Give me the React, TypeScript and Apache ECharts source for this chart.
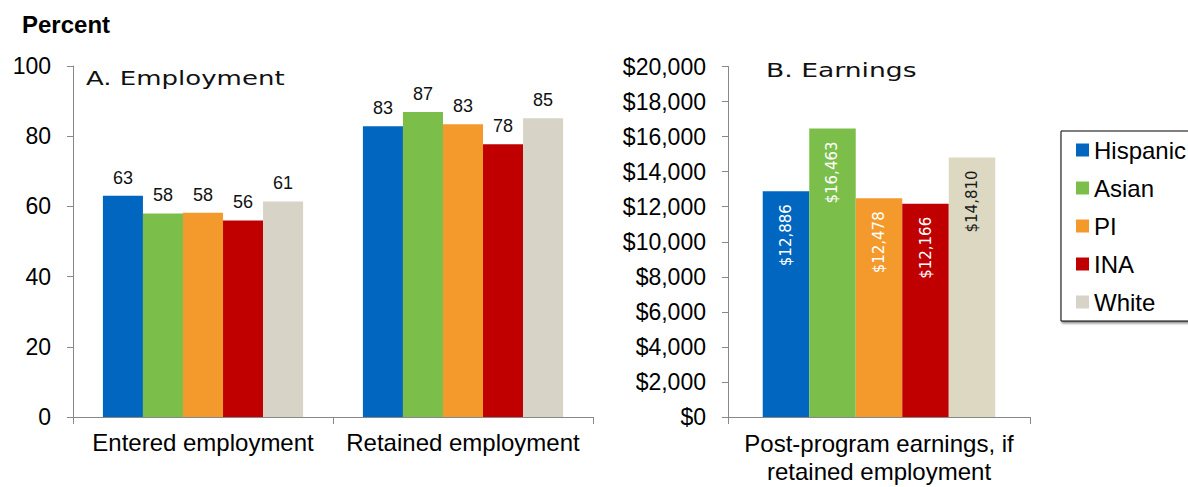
import React, { useEffect, useRef } from "react";
import * as echarts from "echarts";

const seriesNames = ["Hispanic", "Asian", "PI", "INA", "White"];
const employmentCategories = ["Entered employment", "Retained employment"];
const enteredEmployment = [63.0, 58.0, 58.2, 56.0, 61.4];
const retainedEmployment = [82.8, 86.9, 83.4, 77.7, 85.1];
const earningsCategories = ["Post-program earnings, if\nretained employment"];
const earnings = [12886, 16463, 12478, 12166, 14810];
const colorsA = ["#0066C0", "#7CBE4A", "#F49A2C", "#C00000", "#D7D3C7"];
const colorsB = ["#0066C0", "#7CBE4A", "#F49A2C", "#C00000", "#DCD8C1"];
const earningsLabelColors = ["#ffffff", "#ffffff", "#ffffff", "#ffffff", "#1a1a1a"];

const ARIAL = "'Liberation Sans', Arial, sans-serif";
const WIDE = "'DejaVu Sans', sans-serif";

function withCommas(v: number): string {
  const s = String(Math.round(v));
  return s.replace(/\B(?=(\d{3})+(?!\d))/g, ",");
}

export default function App() {
  const ref = useRef<HTMLDivElement>(null);
  useEffect(() => {
    if (!ref.current) return;
    const chart = echarts.init(ref.current, undefined, { renderer: "svg" });
    const axisLineStyle = { color: "#888888", width: 1 };

    const seriesA = seriesNames.map((name, i) => ({
      name,
      type: "bar",
      xAxisIndex: 0,
      yAxisIndex: 0,
      barGap: "0%",
      barCategoryGap: "23%",
      itemStyle: { color: colorsA[i] },
      label: {
        show: true,
        position: "top",
        distance: 9,
        fontFamily: ARIAL,
        fontSize: 18,
        color: "#111111",
        formatter: (p: any) => String(Math.round(p.value)),
      },
      data: [enteredEmployment[i], retainedEmployment[i]],
    }));

    const seriesB = seriesNames.map((name, i) => ({
      name,
      type: "bar",
      xAxisIndex: 1,
      yAxisIndex: 1,
      barGap: "0%",
      barCategoryGap: "23%",
      itemStyle: { color: colorsB[i] },
      label: {
        show: true,
        position: "insideTop",
        rotate: 90,
        align: "right",
        verticalAlign: "middle",
        distance: 13,
        fontFamily: WIDE,
        fontSize: 15,
        color: earningsLabelColors[i],
        formatter: (p: any) => "$" + withCommas(p.value),
      },
      data: [earnings[i]],
    }));

    chart.setOption({
      animation: false,
      backgroundColor: "#ffffff",
      textStyle: { fontFamily: ARIAL },
      grid: [
        { left: 73, top: 66, width: 520, height: 351 },
        { left: 728, top: 66.5, width: 302, height: 350.5 },
      ],
      xAxis: [
        {
          type: "category",
          gridIndex: 0,
          data: employmentCategories,
          axisLine: { lineStyle: axisLineStyle },
          axisTick: { show: true, length: 7, lineStyle: axisLineStyle },
          axisLabel: { interval: 0, fontFamily: ARIAL, fontSize: 24, color: "#000000", margin: 13 },
        },
        {
          type: "category",
          gridIndex: 1,
          data: earningsCategories,
          axisLine: { lineStyle: axisLineStyle },
          axisTick: { show: true, length: 7, lineStyle: axisLineStyle },
          axisLabel: {
            interval: 0,
            fontFamily: ARIAL,
            fontSize: 24,
            lineHeight: 28,
            color: "#000000",
            margin: 12,
          },
        },
      ],
      yAxis: [
        {
          type: "value",
          gridIndex: 0,
          min: 0,
          max: 100,
          interval: 20,
          axisLine: { show: true, lineStyle: axisLineStyle },
          axisTick: { show: true, length: 6, lineStyle: axisLineStyle },
          splitLine: { show: false },
          axisLabel: { fontFamily: ARIAL, fontSize: 23, color: "#000000", margin: 22 },
        },
        {
          type: "value",
          gridIndex: 1,
          min: 0,
          max: 20000,
          interval: 2000,
          axisLine: { show: true, lineStyle: axisLineStyle },
          axisTick: { show: true, length: 6, lineStyle: axisLineStyle },
          splitLine: { show: false },
          axisLabel: {
            fontFamily: ARIAL,
            fontSize: 23,
            color: "#000000",
            margin: 22,
            formatter: (v: number) => "$" + withCommas(v),
          },
        },
      ],
      legend: {
        orient: "vertical",
        left: 1061,
        top: 131,
        data: seriesNames,
        icon: "rect",
        itemWidth: 13,
        itemHeight: 13,
        itemGap: 14,
        padding: [7, 40, 7, 15],
        borderColor: "#000000",
        borderWidth: 1,
        shadowColor: "rgba(0,0,0,0.45)",
        shadowBlur: 2,
        shadowOffsetX: 1,
        shadowOffsetY: 2,
        backgroundColor: "#ffffff",
        textStyle: { fontFamily: ARIAL, fontSize: 24, lineHeight: 24, color: "#000000" },
      },
      graphic: [
        {
          type: "text",
          left: 22,
          top: 12,
          style: {
            text: "Percent",
            fontFamily: ARIAL,
            fontWeight: "bold",
            fontSize: 24,
            fill: "#000000",
          },
        },
        {
          type: "text",
          x: 86,
          y: 68,
          scaleX: 1.3,
          style: {
            text: "A. Employment",
            fontFamily: WIDE,
            fontSize: 20,
            fill: "#111111",
            textAlign: "left",
            textVerticalAlign: "top",
          },
        },
        {
          type: "text",
          x: 766,
          y: 60,
          scaleX: 1.33,
          style: {
            text: "B. Earnings",
            fontFamily: WIDE,
            fontSize: 20,
            fill: "#111111",
            textAlign: "left",
            textVerticalAlign: "top",
          },
        },
      ],
      series: [...seriesA, ...seriesB],
    });
    return () => chart.dispose();
  }, []);

  return (
    <div
      ref={ref}
      style={{ position: "absolute", left: 0, top: 0, width: 1188, height: 487, overflow: "hidden" }}
    />
  );
}
